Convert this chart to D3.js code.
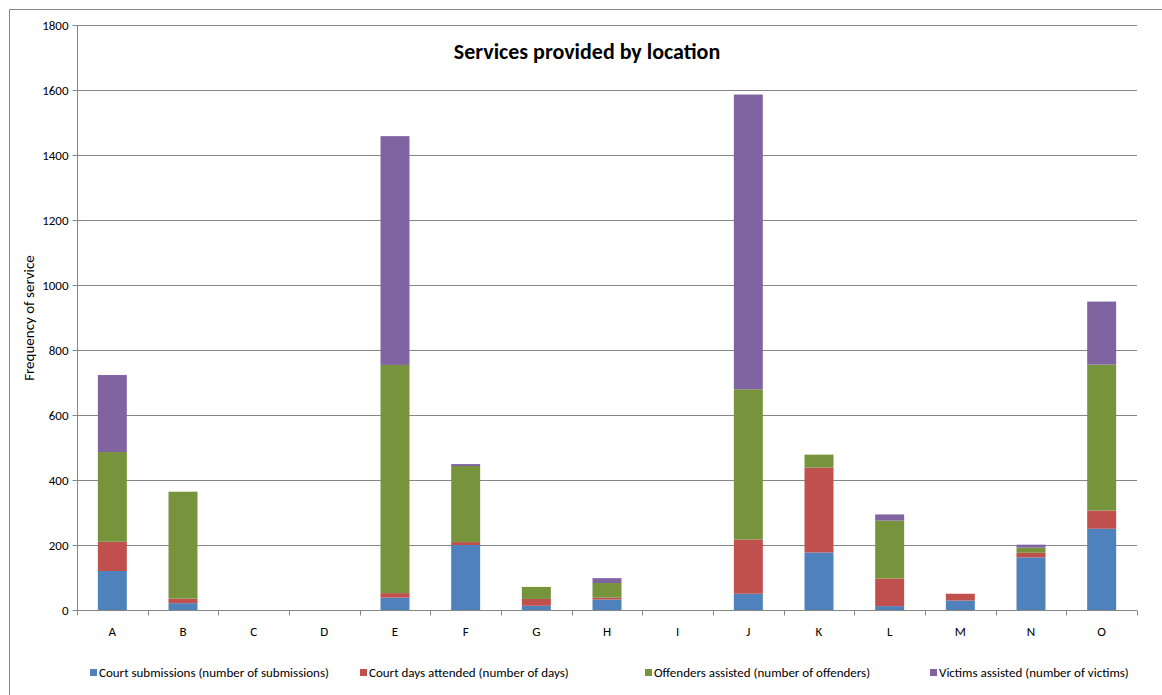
<!DOCTYPE html>
<html>
<head>
<meta charset="utf-8">
<script src="https://cdn.jsdelivr.net/npm/d3@7"></script>
<style>
  body { margin: 0; background: #fff; }
  text { font-family: Carlito, Lato, "Liberation Sans", sans-serif; fill: #000; }
</style>
</head>
<body>
<div class="chart"></div>
<script>
// chart data
var locations = ["A", "B", "C", "D", "E", "F", "G", "H", "I", "J", "K", "L", "M", "N", "O"];
var seriesNames = [
  "Court submissions (number of submissions)",
  "Court days attended (number of days)",
  "Offenders assisted (number of offenders)",
  "Victims assisted (number of victims)"
];
var courtSubmissions = [120, 21, 0, 0, 38, 200, 13, 32, 0, 50, 177, 12, 29, 162, 250];
var courtDays       = [90, 14, 0, 0, 14, 9, 21, 6, 0, 167, 261, 85, 21, 14, 56];
var offenders       = [276, 329, 0, 0, 702, 234, 37, 45, 0, 462, 40, 178, 0, 16, 449];
var victims         = [237, 0, 0, 0, 704, 6, 0, 15, 0, 907, 0, 19, 0, 9, 194];
var yTicks = [0, 200, 400, 600, 800, 1000, 1200, 1400, 1600, 1800];
var colors = ["#4F81BD", "#C0504D", "#77933C", "#8064A2"];

var svgWidth = 1162, svgHeight = 695;
var margin = { top: 25, left: 77, right: 25, bottom: 85 };
var width = svgWidth - margin.left - margin.right;
var height = svgHeight - margin.top - margin.bottom;

var svg = d3.select(".chart").append("svg")
  .attr("width", svgWidth)
  .attr("height", svgHeight);

// outer chart border (runs off the page on right and bottom)
svg.append("path")
  .attr("d", "M9.5," + svgHeight + "V9.5H" + svgWidth)
  .attr("fill", "none")
  .attr("stroke", "#868686")
  .attr("stroke-width", 1);

var chartGroup = svg.append("g")
  .attr("transform", `translate(${margin.left}, ${margin.top})`);

// build table for stacking
var keys = ["s0", "s1", "s2", "s3"];
var table = locations.map(function(loc, i) {
  return { loc: loc, s0: courtSubmissions[i], s1: courtDays[i], s2: offenders[i], s3: victims[i] };
});
var stacked = d3.stack().keys(keys)(table);

var xScale = d3.scaleBand()
  .domain(locations)
  .range([0, width])
  .paddingInner(0.59)
  .paddingOuter(0.295);
var step = xScale.step();

var yScale = d3.scaleLinear().domain([0, 1800]).range([height, 0]);

// gridlines
chartGroup.append("g").selectAll("line")
  .data(yTicks.slice(1))
  .enter().append("line")
  .attr("x1", 0).attr("x2", width)
  .attr("y1", d => Math.round(yScale(d)) + 0.5)
  .attr("y2", d => Math.round(yScale(d)) + 0.5)
  .attr("stroke", "#868686");

// bars
chartGroup.append("g").selectAll("g")
  .data(stacked)
  .enter().append("g")
  .attr("fill", (d, i) => colors[i])
  .selectAll("rect")
  .data(d => d)
  .enter().append("rect")
  .attr("x", d => xScale(d.data.loc))
  .attr("width", xScale.bandwidth())
  .attr("y", d => yScale(d[1]))
  .attr("height", d => yScale(d[0]) - yScale(d[1]));

// y axis
var yAxis = d3.axisLeft(yScale).tickValues(yTicks).tickFormat(d3.format("d")).tickSize(5).tickPadding(4);
var yAxisG = chartGroup.append("g").attr("transform", "translate(0.5,0)").call(yAxis);
yAxisG.selectAll("line, path").attr("stroke", "#868686");
yAxisG.select(".domain").attr("d", `M0,${height}V0`);
yAxisG.selectAll("text").style("font-size", "13px")
  .style("font-family", "Carlito, Lato, sans-serif");

// x axis line and category boundary ticks
var xAxisG = chartGroup.append("g").attr("transform", `translate(0, ${Math.round(height) + 0.5})`);
xAxisG.append("line")
  .attr("x1", 0).attr("x2", width)
  .attr("stroke", "#868686");
xAxisG.selectAll("line.tick")
  .data(d3.range(locations.length + 1))
  .enter().append("line")
  .attr("class", "tick")
  .attr("x1", d => Math.round(d * step) + 0.5)
  .attr("x2", d => Math.round(d * step) + 0.5)
  .attr("y1", 0).attr("y2", 5)
  .attr("stroke", "#868686");
xAxisG.selectAll("text")
  .data(locations)
  .enter().append("text")
  .attr("x", d => xScale(d) + xScale.bandwidth() / 2)
  .attr("y", 25)
  .attr("text-anchor", "middle")
  .style("font-size", "13px")
  .text(d => d);

// y axis title
svg.append("text")
  .attr("transform", "translate(34, 318) rotate(-90)")
  .attr("text-anchor", "middle")
  .style("font-size", "15px")
  .text("Frequency of service");

// chart title
svg.append("text")
  .attr("x", 587)
  .attr("y", 59)
  .attr("text-anchor", "middle")
  .style("font-size", "22px")
  .style("font-weight", "bold")
  .text("Services provided by location");

// legend
var legendX = [90, 360, 645, 930];
var legend = svg.append("g").selectAll("g")
  .data(seriesNames)
  .enter().append("g")
  .attr("transform", (d, i) => `translate(${legendX[i]}, 673)`);
legend.append("rect")
  .attr("x", 0).attr("y", -4)
  .attr("width", 7).attr("height", 7)
  .attr("fill", (d, i) => colors[i]);
legend.append("text")
  .attr("x", 9)
  .attr("y", 4)
  .style("font-size", "13px")
  .text(d => d);
</script>
</body>
</html>
